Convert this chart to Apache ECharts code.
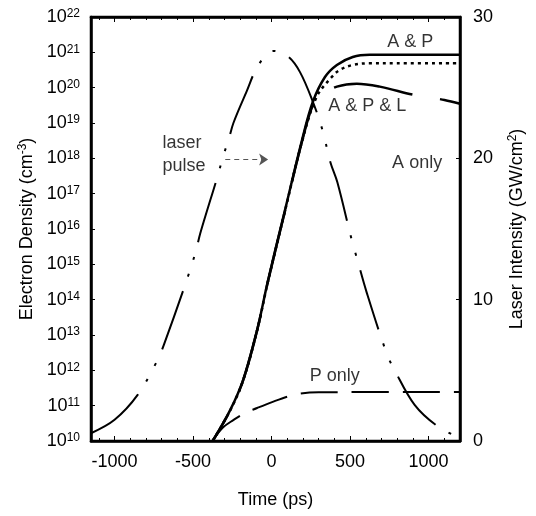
<!DOCTYPE html>
<html><head><meta charset="utf-8">
<script src="https://cdn.jsdelivr.net/npm/echarts@6/dist/echarts.min.js"></script>
<style>html,body{margin:0;padding:0;background:#fff}#c{width:536px;height:516px}</style>
</head><body><div id="c"></div><script>
// ---- data ----
const xTickLabels = [-1000, -500, 0, 500, 1000];
const yRightTicks = [0, 10, 20, 30];

// A & P (solid)
const tAP = [-375, -263, -181, -92, -22, 86, 194, 263, 340, 416, 517, 625, 800, 1200];
const nAP = [1.0e10, 7.6e10, 5.4e11, 1.4e13, 3.6e14, 3.5e16, 3.3e18, 4.0e19, 2.0e20, 4.4e20, 7.4e20, 8.5e20, 8.5e20, 8.5e20];

// A & P & L (dotted)
const tAPL = [-375, -263, -181, -92, -22, 86, 194, 287, 383, 435, 517, 625, 800, 1200];
const nAPL = [1.0e10, 7.4e10, 5.2e11, 1.35e13, 3.4e14, 3.3e16, 3.0e18, 5.5e19, 2.0e20, 3.2e20, 4.4e20, 4.9e20, 4.9e20, 4.9e20];

// A only (long dash)
const tA = [-375, -263, -181, -92, -22, 86, 194, 263, 321, 416, 543, 689, 911, 1101, 1200];
const nA = [1.0e10, 7.4e10, 5.2e11, 1.35e13, 3.4e14, 3.3e16, 3.0e18, 3.2e19, 6.2e19, 1.07e20, 1.3e20, 1.07e20, 6.2e19, 4.5e19, 3.5e19];

// P only (dashed)
const tP = [-375, -310, -244, -170, -92, 3, 100, 181, 300, 1200];
const nP = [1.05e10, 2.4e10, 3.9e10, 6.2e10, 8.6e10, 1.26e11, 1.8e11, 2.2e11, 2.4e11, 2.45e11];

// Laser pulse intensity (GW/cm^2), right axis
const tL = [-1150, -1000, -853, -726, -686, -546, -483, -454, -338, -310, -274, -243, -160, -84, 10, 105, 181, 263, 324, 375, 419, 511, 543, 606, 733, 784, 911, 1050, 1200];
const iL = [0.55, 1.5, 3.26, 5.73, 6.8, 11.2, 13.4, 14.7, 18.95, 20.1, 21.3, 22.5, 24.7, 26.6, 27.6, 27.2, 26.1, 24.0, 22.0, 19.7, 18.3, 14.2, 12.95, 10.5, 6.2, 5.0, 2.55, 1.1, 0.2];

// text annotations (data coordinates)
const annoText = ['A & P', 'A & P & L', 'A only', 'P only', 'laser\npulse'];
const annoT = [883, 610, 927, 403, -695];
const annoN = [1.95e21, 3.0e19, 7.4e17, 6.9e11, 1.3e18];
const annoAlign = ['center', 'center', 'center', 'center', 'left'];

// arrow from "laser pulse" to the pulse curve
const arrowT = [-295, -22];
const arrowN = 9.3e17;

// ---- chart ----
const FONT = 'Liberation Sans, Arial, sans-serif';
const zip = (a, b) => a.map((v, i) => [v, b[i]]);
const chart = echarts.init(document.getElementById('c'), null, {renderer: 'canvas'});
const axisLineStyle = {color: '#000', width: 2.5};

chart.setOption({
  animation: false,
  backgroundColor: '#fff',
  grid: {left: 91, right: 76, top: 17, bottom: 75, show: true, borderColor: '#000', borderWidth: 2.5},
  xAxis: [{
    type: 'value', min: -1150, max: 1200, position: 'bottom',
    axisLine: {show: true, onZero: false, lineStyle: axisLineStyle},
    axisTick: {show: true, inside: true, length: 5, lineStyle: {color: '#000', width: 1}},
    minorTick: {show: true, splitNumber: 5, length: 3, lineStyle: {color: '#000', width: 1}},
    splitLine: {show: false},
    axisLabel: {
      fontSize: 18, color: '#000', fontFamily: FONT, margin: 12,
      showMinLabel: true, showMaxLabel: true,
      formatter: v => xTickLabels.includes(v) ? String(v) : ''
    },
    name: 'Time (ps)', nameLocation: 'middle', nameGap: 50,
    nameTextStyle: {fontSize: 18, color: '#000', fontFamily: FONT}
  }, {
    type: 'value', min: -1150, max: 1200, position: 'top',
    axisLine: {show: true, onZero: false, lineStyle: axisLineStyle},
    axisTick: {show: true, inside: true, length: 5, lineStyle: {color: '#000', width: 1}},
    minorTick: {show: true, splitNumber: 5, length: 3, lineStyle: {color: '#000', width: 1}},
    splitLine: {show: false},
    axisLabel: {show: false}
  }],
  yAxis: [{
    type: 'log', logBase: 10, min: 1e10, max: 1e22, interval: 1, position: 'left',
    axisLine: {show: true, onZero: false, lineStyle: axisLineStyle},
    axisTick: {show: true, inside: true, length: 4, lineStyle: {color: '#000', width: 1}},
    splitLine: {show: false},
    minorTick: {show: false},
    axisLabel: {
      margin: 11, color: '#000',
      formatter: v => '{b|10}{s|' + Math.round(Math.log10(v)) + '}',
      rich: {
        b: {fontSize: 18, fontFamily: FONT, color: '#000'},
        s: {fontSize: 12, fontFamily: FONT, color: '#000', padding: [0, 0, 6, 0]}
      }
    },
    name: '{n|Electron Density (cm}{s|-3}{n|)}', nameLocation: 'middle', nameRotate: 90, nameGap: 52,
    nameTextStyle: {
      rich: {
        n: {fontSize: 18, fontFamily: FONT, color: '#000'},
        s: {fontSize: 12, fontFamily: FONT, color: '#000', padding: [0, 0, 8, 0]}
      }
    }
  }, {
    type: 'value', min: 0, max: 30, interval: 10, position: 'right',
    axisLine: {show: true, onZero: false, lineStyle: axisLineStyle},
    axisTick: {show: true, inside: true, length: 4, lineStyle: {color: '#000', width: 1}},
    splitLine: {show: false},
    axisLabel: {
      fontSize: 18, color: '#000', fontFamily: FONT, margin: 13,
      formatter: v => yRightTicks.includes(v) ? String(v) : ''
    },
    name: '{n|Laser Intensity (GW/cm}{s|2}{n|)}', nameLocation: 'middle', nameRotate: 90, nameGap: 47,
    nameTextStyle: {
      rich: {
        n: {fontSize: 18, fontFamily: FONT, color: '#000'},
        s: {fontSize: 12, fontFamily: FONT, color: '#000', padding: [0, 0, 8, 0]}
      }
    }
  }],
  series: [{
    name: 'laser pulse', type: 'line', yAxisIndex: 1, showSymbol: false, smooth: 0.35,
    data: zip(tL, iL),
    lineStyle: {color: '#000', width: 2, type: [62, 15, 3, 15, 3, 15], cap: 'butt'}
  }, {
    name: 'P only', type: 'line', yAxisIndex: 0, showSymbol: false, smooth: 0.35,
    data: zip(tP, nP),
    lineStyle: {color: '#000', width: 2, type: [37, 14], cap: 'butt'}
  }, {
    name: 'A only', type: 'line', yAxisIndex: 0, showSymbol: false, smooth: 0.35,
    data: zip(tA, nA),
    lineStyle: {color: '#000', width: 2.5, type: [80, 28], dashOffset: 52, cap: 'butt'}
  }, {
    name: 'A & P & L', type: 'line', yAxisIndex: 0, showSymbol: false, smooth: 0.35,
    data: zip(tAPL, nAPL),
    lineStyle: {color: '#000', width: 2.5, type: [3, 4], cap: 'butt'}
  }, {
    name: 'A & P', type: 'line', yAxisIndex: 0, showSymbol: false, smooth: 0.35,
    data: zip(tAP, nAP),
    lineStyle: {color: '#000', width: 2.5, type: 'solid'},
    markLine: {
      silent: true, symbol: ['none', 'arrow'], symbolSize: 9,
      label: {show: false},
      lineStyle: {color: '#555', width: 1, type: [5, 4]},
      data: [[{coord: [arrowT[0], arrowN]}, {coord: [arrowT[1], arrowN]}]]
    }
  }, {
    name: 'labels', type: 'scatter', yAxisIndex: 0, symbolSize: 0, silent: true,
    data: annoText.map((s, i) => ({value: [annoT[i], annoN[i]], label: {align: annoAlign[i]}})),
    label: {
      show: true, position: 'inside', fontSize: 18, fontFamily: FONT, color: '#000', lineHeight: 23,
      formatter: p => annoText[p.dataIndex]
    }
  }]
});
</script></body></html>
